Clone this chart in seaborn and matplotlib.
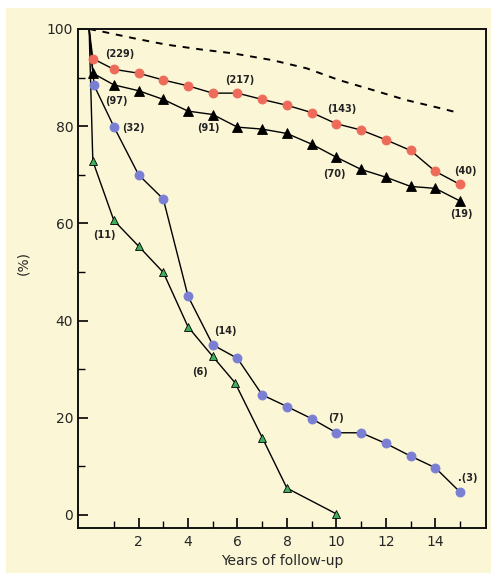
import matplotlib
matplotlib.use("Agg")
import matplotlib.pyplot as plt
import seaborn as sns
import pandas as pd
from matplotlib.ticker import MultipleLocator, FixedLocator
from matplotlib.patches import Rectangle

# survival curves (years, percent)
years_red = [0, 0.15, 1, 2, 3, 4, 5, 6, 7, 8, 9, 10, 11, 12, 13, 14, 15]
pct_red = [100, 93.9, 91.7, 90.9, 89.5, 88.3, 86.8, 86.8, 85.5, 84.3, 82.8, 80.5, 79.2, 77.2, 75.0, 70.7, 68.0]

years_black = [0, 0.15, 1, 2, 3, 4, 5, 6, 7, 8, 9, 10, 11, 12, 13, 14, 15]
pct_black = [100, 90.9, 88.5, 87.3, 85.5, 83.1, 82.4, 79.8, 79.4, 78.5, 76.3, 73.6, 71.1, 69.5, 67.6, 67.2, 64.6]

years_blue = [0, 0.2, 1, 2, 3, 4, 5, 6, 7, 8, 9, 10, 11, 12, 13, 14, 15]
pct_blue = [100, 88.4, 79.9, 70.0, 65.0, 45.0, 35.0, 32.2, 24.7, 22.3, 19.8, 16.9, 16.9, 14.7, 12.1, 9.7, 4.7]

years_green = [0, 0.15, 1, 2, 3, 4, 5, 5.9, 7, 8, 10]
pct_green = [100, 72.8, 60.6, 55.3, 49.9, 38.7, 32.6, 27.2, 15.9, 5.5, 0.2]

# expected survival (dashed)
years_exp = [0, 0.5, 1.8, 3.1, 4.5, 5.8, 7.4, 8.8, 10.1, 11.5, 12.8, 14.2, 14.9]
pct_exp = [100, 99.5, 98.1, 96.8, 95.8, 95.0, 93.6, 91.9, 89.5, 87.4, 85.4, 83.7, 82.8]

# number-at-risk labels: text, year, percent
labels = [
    ("(229)", 1.23, 94.9), ("(217)", 6.1, 89.5), ("(143)", 10.2, 83.5), ("(40)", 15.2, 70.8),
    ("(97)", 1.1, 85.2), ("(91)", 4.84, 79.6), ("(70)", 9.9, 70.2), ("(19)", 15.05, 61.9),
    ("(32)", 1.8, 79.6), ("(14)", 5.5, 37.9), ("(7)", 10.0, 20.0), (".(3)", 15.3, 7.6),
    ("(11)", 0.63, 57.6), ("(6)", 4.5, 29.4),
]
xtick_major = [2, 4, 6, 8, 10, 12, 14]
xtick_minor = [1, 3, 5, 7, 9, 11, 13, 15]

cream = "#fbf6d6"
sns.set_style("ticks")
plt.rcParams["font.family"] = ["DejaVu Sans"]

fig = plt.figure(figsize=(4.91, 5.73), dpi=100, facecolor="white")
fig.patches.append(Rectangle((6 / 491, 0), 1, 1 - 8 / 573, transform=fig.transFigure,
                             facecolor=cream, edgecolor="none", zorder=-10))
ax = fig.add_axes([78 / 491, 1 - 528 / 573, 408 / 491, 499 / 573])
ax.set_facecolor(cream)

sns.lineplot(x=years_exp, y=pct_exp, color="black", linestyle=(0, (3.5, 3.5)), lw=1.4,
             sort=False, estimator=None, ax=ax)

series = [
    (years_red, pct_red, "o", "#ee6b5a", 6.5),
    (years_black, pct_black, "^", "black", 6.5),
    (years_blue, pct_blue, "o", "#7a7fd4", 6.5),
    (years_green, pct_green, "^", "#3fae5c", 6),
]
for xs, ys, mk, col, ms in series:
    df = pd.DataFrame({"year": xs[1:], "pct": ys[1:]})
    # connecting line from 100% at t=0
    sns.lineplot(x=xs, y=ys, color="black", lw=1.0, sort=False, estimator=None, ax=ax)
    sns.lineplot(data=df, x="year", y="pct", color=col, lw=0, marker=mk, markersize=ms,
                 markerfacecolor=col, markeredgecolor="black" if mk == "^" else col,
                 markeredgewidth=0.6, estimator=None, ax=ax, zorder=5)

for txt, x, y in labels:
    ax.text(x, y, txt, ha="center", va="center", fontsize=7, fontweight="bold", color="#222222")

ax.set_xlim(-0.45, 16.05)
ax.set_ylim(-2.7, 100)
ax.xaxis.set_major_locator(FixedLocator(xtick_major))
ax.xaxis.set_minor_locator(FixedLocator(xtick_minor))
ax.yaxis.set_major_locator(MultipleLocator(20))
ax.yaxis.set_minor_locator(MultipleLocator(10))
ax.set_xticklabels([str(t) for t in xtick_major])
ax.tick_params(which="major", direction="in", length=7, width=1.2, labelsize=10, color="black")
ax.tick_params(which="minor", direction="in", length=5, width=1.0, color="black")
ax.tick_params(axis="x", pad=5)
for s in ax.spines.values():
    s.set_linewidth(1.4)
    s.set_color("#111111")

ax.set_xlabel("Years of follow-up", fontsize=10, labelpad=4)
ax.set_ylabel("")
fig.text(23 / 491, 1 - 263 / 573, "(%)", rotation=90, ha="center", va="center", fontsize=10)

fig.savefig("out.png", dpi=100, facecolor=fig.get_facecolor())
